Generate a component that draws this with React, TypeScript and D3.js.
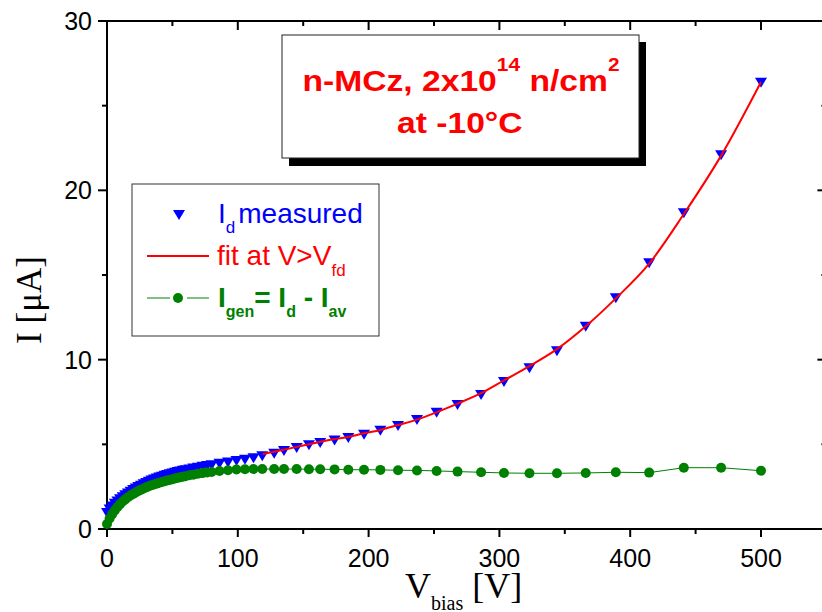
import React from "react";
import * as d3 from "d3";

const W = 822;
const H = 612;

// Bias voltage of each measured point [V]
const biasV = [
  0, 2, 4, 6, 8, 10, 12, 14, 16, 18, 20, 22, 24, 26, 28, 30, 32, 34, 36, 38, 40,
  42, 44, 46, 48, 50, 52, 54, 56, 58, 60, 63, 66, 69.5, 73, 76.5, 80, 86, 92.5,
  99, 105.5, 112, 118.7, 127.8, 135.3, 145, 154.4, 163, 174, 184.5, 196.5, 209,
  222.5, 237, 252, 268, 286, 303.5, 323, 344, 366, 389, 414.5, 441, 469.5, 500,
];

// Measured dark current I_d [uA]
const measuredI = [
  0.95, 1.15, 1.33, 1.49, 1.63, 1.76, 1.88, 1.99, 2.1, 2.2, 2.3, 2.39, 2.48,
  2.56, 2.64, 2.72, 2.79, 2.86, 2.92, 2.98, 3.04, 3.09, 3.14, 3.19, 3.24, 3.28,
  3.32, 3.36, 3.4, 3.44, 3.47, 3.52, 3.57, 3.62, 3.67, 3.72, 3.77, 3.85, 3.93,
  4.01, 4.09, 4.18, 4.3, 4.45, 4.6, 4.78, 4.95, 5.08, 5.22, 5.37, 5.56, 5.8,
  6.08, 6.44, 6.86, 7.33, 7.92, 8.68, 9.5, 10.5, 11.95, 13.62, 15.69, 18.65,
  22.07, 26.36,
];

// Generation current I_gen = I_d - I_av [uA]
const generationI = [
  0.3, 0.62, 0.88, 1.1, 1.3, 1.47, 1.62, 1.75, 1.87, 1.98, 2.07, 2.16, 2.24,
  2.32, 2.39, 2.46, 2.52, 2.58, 2.63, 2.68, 2.73, 2.78, 2.82, 2.86, 2.9, 2.94,
  2.98, 3.02, 3.06, 3.09, 3.12, 3.17, 3.21, 3.26, 3.3, 3.34, 3.37, 3.42, 3.47,
  3.51, 3.53, 3.54, 3.54, 3.54, 3.54, 3.54, 3.53, 3.53, 3.52, 3.5, 3.5, 3.49,
  3.47, 3.46, 3.43, 3.39, 3.35, 3.31, 3.29, 3.29, 3.31, 3.35, 3.33, 3.62, 3.62,
  3.44,
];

// Fit above full depletion
const fitV = [119, 135, 150, 173, 185, 196.5, 209, 222.5, 237, 252, 268, 286, 303.5, 323, 344, 366, 389, 414.5, 441, 469.5, 500];
const fitI = [4.43, 4.68, 4.93, 5.3, 5.45, 5.65, 5.85, 6.14, 6.46, 6.89, 7.4, 8.02, 8.78, 9.62, 10.62, 11.97, 13.62, 15.67, 18.6, 22.05, 26.4];

const xMajor = [0, 100, 200, 300, 400, 500];
const xMinor = [50, 150, 250, 350, 450, 550];
const yMajor = [0, 10, 20, 30];
const yMinor = [5, 15, 25];

const BLUE = "#0000ff";
const RED = "#ff0000";
const GREEN = "#008000";
const SANS = "'Liberation Sans', Arial, sans-serif";
const SERIF = "'Liberation Serif', 'Times New Roman', serif";

const x = d3.scaleLinear().domain([0, 550]).range([107, 826.4]);
const y = d3.scaleLinear().domain([0, 30]).range([529, 21]);

const TRI = "M-6,-5L6,-5L0,5Z";

export default function App() {
  const measured = biasV.map((v, i) => ({ v, i: measuredI[i] }));
  const gen = biasV.map((v, i) => ({ v, i: generationI[i] }));
  const fit = fitV.map((v, i) => ({ v, i: fitI[i] }));

  const genLine = d3
    .line<{ v: number; i: number }>()
    .x((d) => x(d.v))
    .y((d) => y(d.i));
  const fitLine = d3
    .line<{ v: number; i: number }>()
    .x((d) => x(d.v))
    .y((d) => y(d.i))
    .curve(d3.curveMonotoneX);

  const x0 = x(0);
  const x1 = x(550);
  const yTop = y(30);
  const yBot = y(0);

  const stretch = (cx: number, sx: number) =>
    `translate(${cx},0) scale(${sx},1) translate(${-cx},0)`;

  return (
    <svg
      width={W}
      height={H}
      viewBox={`0 0 ${W} ${H}`}
      style={{ position: "absolute", left: 0, top: 0, background: "#fff" }}
    >
      <rect x={0} y={0} width={W} height={H} fill="#fff" />

      {/* frame */}
      <g stroke="#000" strokeWidth={2} fill="none">
        <line x1={x0} y1={yTop} x2={x0} y2={yBot} />
        <line x1={x0 - 1} y1={yBot} x2={x1} y2={yBot} />
        <line x1={x0 - 1} y1={yTop} x2={x1} y2={yTop} />
        <line x1={x1} y1={yTop} x2={x1} y2={yBot} />
      </g>

      {/* ticks */}
      <g stroke="#000" strokeWidth={2}>
        {xMajor.map((t) => (
          <g key={"xm" + t}>
            <line x1={x(t)} x2={x(t)} y1={yBot} y2={yBot + 8} />
            <line x1={x(t)} x2={x(t)} y1={yTop} y2={yTop + 9} />
          </g>
        ))}
        {xMinor.map((t) => (
          <g key={"xn" + t}>
            <line x1={x(t)} x2={x(t)} y1={yBot} y2={yBot + 5} />
            <line x1={x(t)} x2={x(t)} y1={yTop} y2={yTop + 5} />
          </g>
        ))}
        {yMajor.map((t) => (
          <g key={"ym" + t}>
            <line x1={x0} x2={x0 - 9} y1={y(t)} y2={y(t)} />
            <line x1={x1} x2={x1 - 9} y1={y(t)} y2={y(t)} />
          </g>
        ))}
        {yMinor.map((t) => (
          <g key={"yn" + t}>
            <line x1={x0} x2={x0 - 5} y1={y(t)} y2={y(t)} />
            <line x1={x1} x2={x1 - 5} y1={y(t)} y2={y(t)} />
          </g>
        ))}
      </g>

      {/* tick labels */}
      <g fontFamily={SANS} fontSize={25} fill="#000">
        {xMajor.map((t) => (
          <text key={"xl" + t} x={x(t)} y={567} textAnchor="middle">
            {t}
          </text>
        ))}
        {yMajor.map((t) => (
          <text key={"yl" + t} x={92} y={y(t) + 9} textAnchor="end">
            {t}
          </text>
        ))}
      </g>

      {/* axis titles */}
      <text
        transform="translate(41,300) rotate(-90)"
        textAnchor="middle"
        fontFamily={SERIF}
        fontSize={35}
        fill="#000"
      >
        I [μA]
      </text>
      <text x={405} y={598} fontFamily={SERIF} fontSize={36} fill="#000">
        V
        <tspan fontSize={20} dy={12}>
          bias
        </tspan>
        <tspan dy={-12}> [V]</tspan>
      </text>

      {/* measured current */}
      <g fill={BLUE}>
        {measured.map((d, k) => (
          <path key={"m" + k} d={TRI} transform={`translate(${x(d.v)},${y(d.i)})`} />
        ))}
      </g>

      {/* generation current */}
      <path d={genLine(gen) || ""} fill="none" stroke={GREEN} strokeWidth={1} />
      <g fill={GREEN}>
        {gen.map((d, k) => (
          <circle key={"g" + k} cx={x(d.v)} cy={y(d.i)} r={5} />
        ))}
      </g>

      {/* fit */}
      <path d={fitLine(fit) || ""} fill="none" stroke={RED} strokeWidth={2} />

      {/* sample label box */}
      <rect x={289} y={42} width={357} height={124} fill="#000" />
      <rect x={282} y={35} width={357} height={123} fill="#fff" stroke="#222" strokeWidth={1} />
      <g transform={stretch(461, 1.16)} fontFamily={SANS} fontWeight="bold" fill={RED} fontSize={29}>
        <text x={461} y={91} textAnchor="middle">
          n-MCz, 2x10
          <tspan fontSize={18} dy={-20}>
            14
          </tspan>
          <tspan dy={20}> n/cm</tspan>
          <tspan fontSize={18} dy={-20}>
            2
          </tspan>
        </text>
        <text x={460} y={133} textAnchor="middle">
          at -10°C
        </text>
      </g>

      {/* legend */}
      <rect x={132} y={184} width={247} height={152} fill="#fff" stroke="#333" strokeWidth={1} />
      <path d={TRI} fill={BLUE} transform="translate(179,215)" />
      <text x={218} y={223} fontFamily={SANS} fontSize={28} fill={BLUE}>
        I
        <tspan fontSize={17} dy={10}>
          d
        </tspan>
        <tspan dy={-10} dx={3}>
          measured
        </tspan>
      </text>

      <line x1={147} x2={209} y1={256} y2={256} stroke={RED} strokeWidth={2} />
      <text x={217} y={265} fontFamily={SANS} fontSize={28} fill={RED}>
        fit at V&gt;V
        <tspan fontSize={17} dy={11}>
          fd
        </tspan>
      </text>

      <line x1={147} x2={170} y1={298} y2={298} stroke={GREEN} strokeWidth={1} />
      <line x1={187} x2={209} y1={298} y2={298} stroke={GREEN} strokeWidth={1} />
      <circle cx={178} cy={298} r={5} fill={GREEN} />
      <text x={218} y={307} fontFamily={SANS} fontSize={28} fontWeight="bold" fill={GREEN}>
        I
        <tspan fontSize={16} dy={10}>
          gen
        </tspan>
        <tspan dy={-10}>= I</tspan>
        <tspan fontSize={16} dy={10}>
          d
        </tspan>
        <tspan dy={-10}> - I</tspan>
        <tspan fontSize={16} dy={10}>
          av
        </tspan>
      </text>
    </svg>
  );
}
